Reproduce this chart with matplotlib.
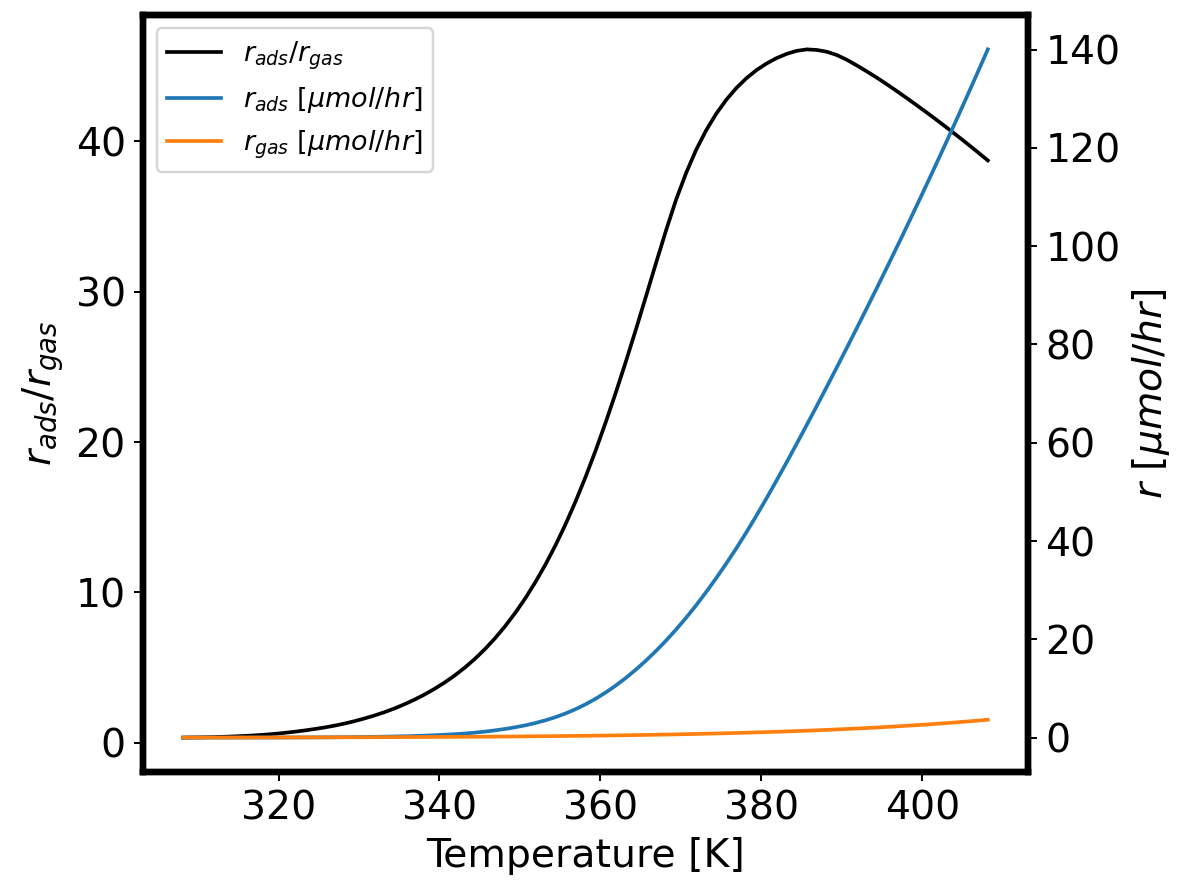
import numpy as np
import matplotlib
matplotlib.use("Agg")
import matplotlib.pyplot as plt

# temperature samples [K], 35-135 C every 1.25 K
T = np.linspace(308.15, 408.15, 81)

# r_ads / r_gas (left axis)
ratio = [0.33, 0.34, 0.35, 0.365, 0.385, 0.41, 0.44, 0.475, 0.52, 0.575,
         0.64, 0.715, 0.80, 0.895, 1.00, 1.12, 1.26, 1.42, 1.60, 1.80,
         2.02, 2.27, 2.55, 2.86, 3.20, 3.58, 4.00, 4.47, 4.99, 5.57,
         6.22, 6.94, 7.74, 8.62, 9.59, 10.66, 11.83, 13.11, 14.51, 16.03,
         17.67, 19.43, 21.30, 23.27, 25.33, 27.47, 29.67, 31.89, 34.07, 36.12,
         37.90, 39.45, 40.75, 41.85, 42.78, 43.56, 44.21, 44.75, 45.19, 45.55,
         45.83, 46.03, 46.13, 46.09, 45.97, 45.75, 45.43, 45.05, 44.65, 44.23,
         43.79, 43.33, 42.86, 42.38, 41.89, 41.39, 40.88, 40.36, 39.83, 39.29,
         38.74]

# r_ads [umol/hr] (right axis)
r_ads = [0.007, 0.008, 0.009, 0.010, 0.012, 0.014, 0.016, 0.019, 0.022, 0.027,
         0.032, 0.038, 0.045, 0.054, 0.064, 0.077, 0.092, 0.112, 0.136, 0.165,
         0.20, 0.24, 0.28, 0.34, 0.41, 0.49, 0.59, 0.71, 0.84, 1.02,
         1.23, 1.48, 1.77, 2.11, 2.50, 2.97, 3.52, 4.16, 4.91, 5.78,
         6.78, 7.91, 9.18, 10.59, 12.14, 13.83, 15.66, 17.63, 19.74, 21.99,
         24.39, 26.94, 29.64, 32.48, 35.45, 38.55, 41.80, 45.20, 48.72, 52.34,
         56.04, 59.81, 63.64, 67.52, 71.44, 75.40, 79.40, 83.44, 87.52, 91.64,
         95.80, 100.0, 104.25, 108.55, 112.90, 117.30, 121.75, 126.25, 130.80, 135.40,
         140.05]

# r_gas [umol/hr] (right axis)
r_gas = [0.019, 0.021, 0.023, 0.025, 0.027, 0.029, 0.032, 0.035, 0.038, 0.041,
         0.044, 0.048, 0.052, 0.056, 0.061, 0.066, 0.071, 0.076, 0.082, 0.089,
         0.096, 0.103, 0.111, 0.119, 0.128, 0.138, 0.148, 0.159, 0.170, 0.182,
         0.196, 0.209, 0.224, 0.240, 0.257, 0.274, 0.293, 0.313, 0.334, 0.357,
         0.381, 0.406, 0.433, 0.461, 0.491, 0.522, 0.556, 0.591, 0.628, 0.667,
         0.709, 0.753, 0.799, 0.848, 0.899, 0.953, 1.009, 1.069, 1.132, 1.198,
         1.268, 1.340, 1.417, 1.497, 1.582, 1.671, 1.764, 1.861, 1.964, 2.071,
         2.184, 2.302, 2.425, 2.554, 2.689, 2.830, 2.979, 3.133, 3.295, 3.464,
         3.640]

fig = plt.figure(figsize=(1178 / 177, 880 / 177), dpi=177)
ax = fig.add_axes([0.1214, 0.1227, 0.7513, 0.8603])
ax2 = ax.twinx()

l1, = ax.plot(T, ratio, color='k', lw=1.5, label=r'$r_{ads}/r_{gas}$')
l2, = ax2.plot(T, r_ads, color='tab:blue', lw=1.5, label=r'$r_{ads}$ $[\mu mol/hr]$')
l3, = ax2.plot(T, r_gas, color='tab:orange', lw=1.5, label=r'$r_{gas}$ $[\mu mol/hr]$')

ax.set_xlabel('Temperature [K]', fontsize=16)
ax.set_ylabel(r'$r_{ads}/r_{gas}$', fontsize=16)
ax2.set_ylabel(r'$r$ $[\mu mol/hr]$', fontsize=16)
ax.tick_params(labelsize=16)
ax2.tick_params(labelsize=16)

for a in (ax, ax2):
    for s in a.spines.values():
        s.set_linewidth(2.6)

ax2.legend(handles=[l1, l2, l3], loc='upper left', fontsize=11)

fig.savefig('out.png', dpi=177)
